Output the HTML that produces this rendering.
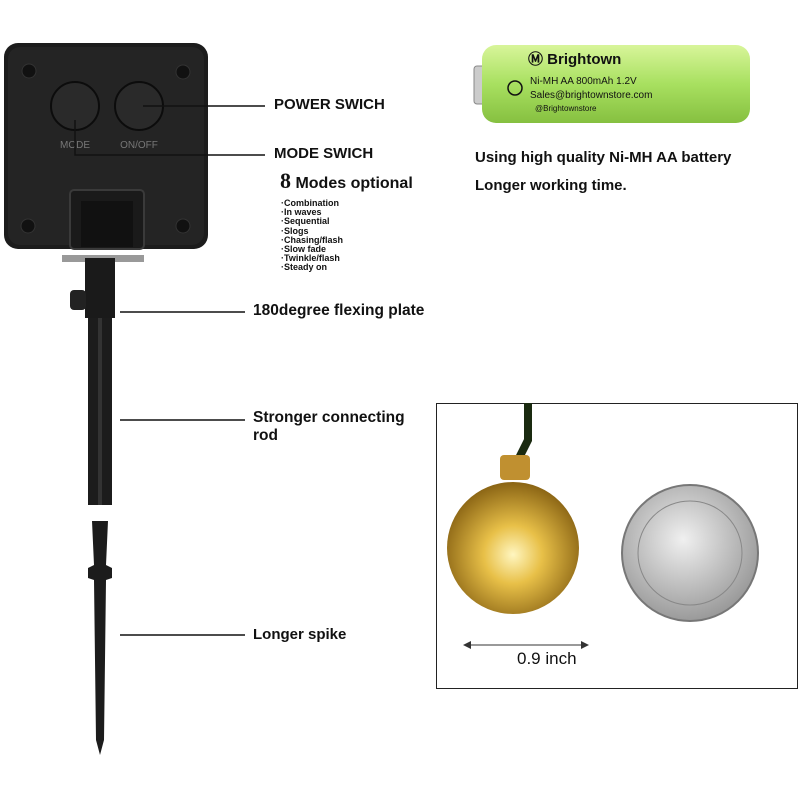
<!DOCTYPE html>
<html><head><style>
body{margin:0;width:800px;height:800px;background:#fff;position:relative;overflow:hidden;font-family:"Liberation Sans",sans-serif}
.t{position:absolute;font-weight:bold;color:#111;white-space:nowrap}
</style></head><body>
<svg width="800" height="800" style="position:absolute;left:0;top:0">
<defs>
<radialGradient id="ball" cx="50%" cy="55%" r="55%"><stop offset="0" stop-color="#fff6c0"/><stop offset="0.4" stop-color="#e8c048"/><stop offset="1" stop-color="#8a6414"/></radialGradient>
<radialGradient id="coin" cx="45%" cy="40%" r="60%"><stop offset="0" stop-color="#f0f0f0"/><stop offset="1" stop-color="#9a9a9a"/></radialGradient>
<linearGradient id="bat" x1="0" y1="0" x2="0" y2="1"><stop offset="0" stop-color="#d8f59a"/><stop offset="0.5" stop-color="#a8e060"/><stop offset="1" stop-color="#86c040"/></linearGradient>
</defs>
<rect x="4" y="43" width="204" height="206" rx="14" fill="#1c1c1c"/>
<rect x="8" y="47" width="196" height="198" rx="12" fill="#242424"/>
<circle cx="29" cy="71" r="7" fill="#111" stroke="#333"/><circle cx="183" cy="72" r="7" fill="#111" stroke="#333"/>
<circle cx="28" cy="226" r="7" fill="#111" stroke="#333"/><circle cx="183" cy="226" r="7" fill="#111" stroke="#333"/>
<circle cx="75" cy="106" r="24" fill="#2a2a2a" stroke="#0c0c0c" stroke-width="2"/>
<circle cx="139" cy="106" r="24" fill="#2a2a2a" stroke="#0c0c0c" stroke-width="2"/>
<text x="75" y="148" font-size="10" fill="#777" text-anchor="middle" font-family="Liberation Sans">MODE</text>
<text x="139" y="148" font-size="10" fill="#777" text-anchor="middle" font-family="Liberation Sans">ON/OFF</text>
<rect x="70" y="190" width="74" height="59" rx="4" fill="#1a1a1a" stroke="#3a3a3a" stroke-width="2"/>
<rect x="81" y="201" width="52" height="46" fill="#111"/>
<polyline points="143,106 265,106" stroke="#111" stroke-width="1.5" fill="none"/>
<polyline points="75,120 75,155 265,155" stroke="#111" stroke-width="1.5" fill="none"/>
<rect x="62" y="255" width="82" height="7" fill="#999"/>
<rect x="85" y="258" width="30" height="60" fill="#1a1a1a"/>
<rect x="70" y="290" width="16" height="20" rx="4" fill="#222"/>
<rect x="88" y="318" width="24" height="187" fill="#1c1c1c"/>
<rect x="98" y="318" width="4" height="187" fill="#333"/>
<line x1="120" y1="312" x2="245" y2="312" stroke="#111" stroke-width="1.5"/>
<line x1="120" y1="420" x2="245" y2="420" stroke="#111" stroke-width="1.5"/>
<polygon points="92,521 108,521 106,565 112,568 112,578 106,580 104,740 100,755 96,740 94,580 88,578 88,568 94,565" fill="#1c1c1c"/>
<line x1="120" y1="635" x2="245" y2="635" stroke="#111" stroke-width="1.5"/>
<rect x="474" y="66" width="12" height="38" rx="3" fill="#ccc" stroke="#888"/>
<rect x="482" y="45" width="268" height="78" rx="14" fill="url(#bat)"/>
<text x="528" y="64" font-size="15" font-weight="bold" fill="#111" font-family="Liberation Sans">Ⓜ Brightown</text>
<text x="530" y="84" font-size="10" fill="#111" font-family="Liberation Sans">Ni-MH AA 800mAh 1.2V</text>
<text x="530" y="98" font-size="10" fill="#111" font-family="Liberation Sans">Sales@brightownstore.com</text>
<text x="535" y="111" font-size="8" fill="#111" font-family="Liberation Sans">@Brightownstore</text>
<circle cx="515" cy="88" r="7" fill="none" stroke="#111" stroke-width="1.5"/>
<rect x="436.5" y="403.5" width="361" height="285" fill="none" stroke="#222" stroke-width="1"/>
<path d="M528 403 L528 440 L518 460" stroke="#1a2a10" stroke-width="8" fill="none"/>
<rect x="500" y="455" width="30" height="25" rx="4" fill="#c09030"/>
<circle cx="513" cy="548" r="66" fill="url(#ball)"/>
<circle cx="690" cy="553" r="68" fill="url(#coin)" stroke="#777" stroke-width="2"/>
<circle cx="690" cy="553" r="52" fill="none" stroke="#888" stroke-width="1"/>
<line x1="467" y1="645" x2="585" y2="645" stroke="#333" stroke-width="1"/>
<polygon points="463,645 471,641 471,649" fill="#333"/><polygon points="589,645 581,641 581,649" fill="#333"/>
</svg>
<div class="t" style="left:274px;top:96px;font-size:15px">POWER SWICH</div>
<div class="t" style="left:274px;top:145px;font-size:15px">MODE SWICH</div>
<div class="t" style="left:280px;top:168px;font-size:16px"><span style="font-size:22px;font-family:'Liberation Serif',serif">8</span> Modes optional</div>
<div class="t" style="left:281px;top:199px;font-size:9px;line-height:9.2px">·Combination<br>·In waves<br>·Sequential<br>·Slogs<br>·Chasing/flash<br>·Slow fade<br>·Twinkle/flash<br>·Steady on</div>
<div class="t" style="left:253px;top:302px;font-size:15.5px">180degree flexing plate</div>
<div class="t" style="left:253px;top:409px;font-size:15.5px;line-height:18px">Stronger connecting<br>rod</div>
<div class="t" style="left:253px;top:626px;font-size:15px">Longer spike</div>
<div class="t" style="left:475px;top:149px;font-size:15px">Using high quality Ni-MH AA battery</div>
<div class="t" style="left:475px;top:177px;font-size:15px">Longer working time.</div>
<div class="t" style="left:517px;top:649px;font-size:17px;font-weight:normal">0.9 inch</div>
</body></html>
